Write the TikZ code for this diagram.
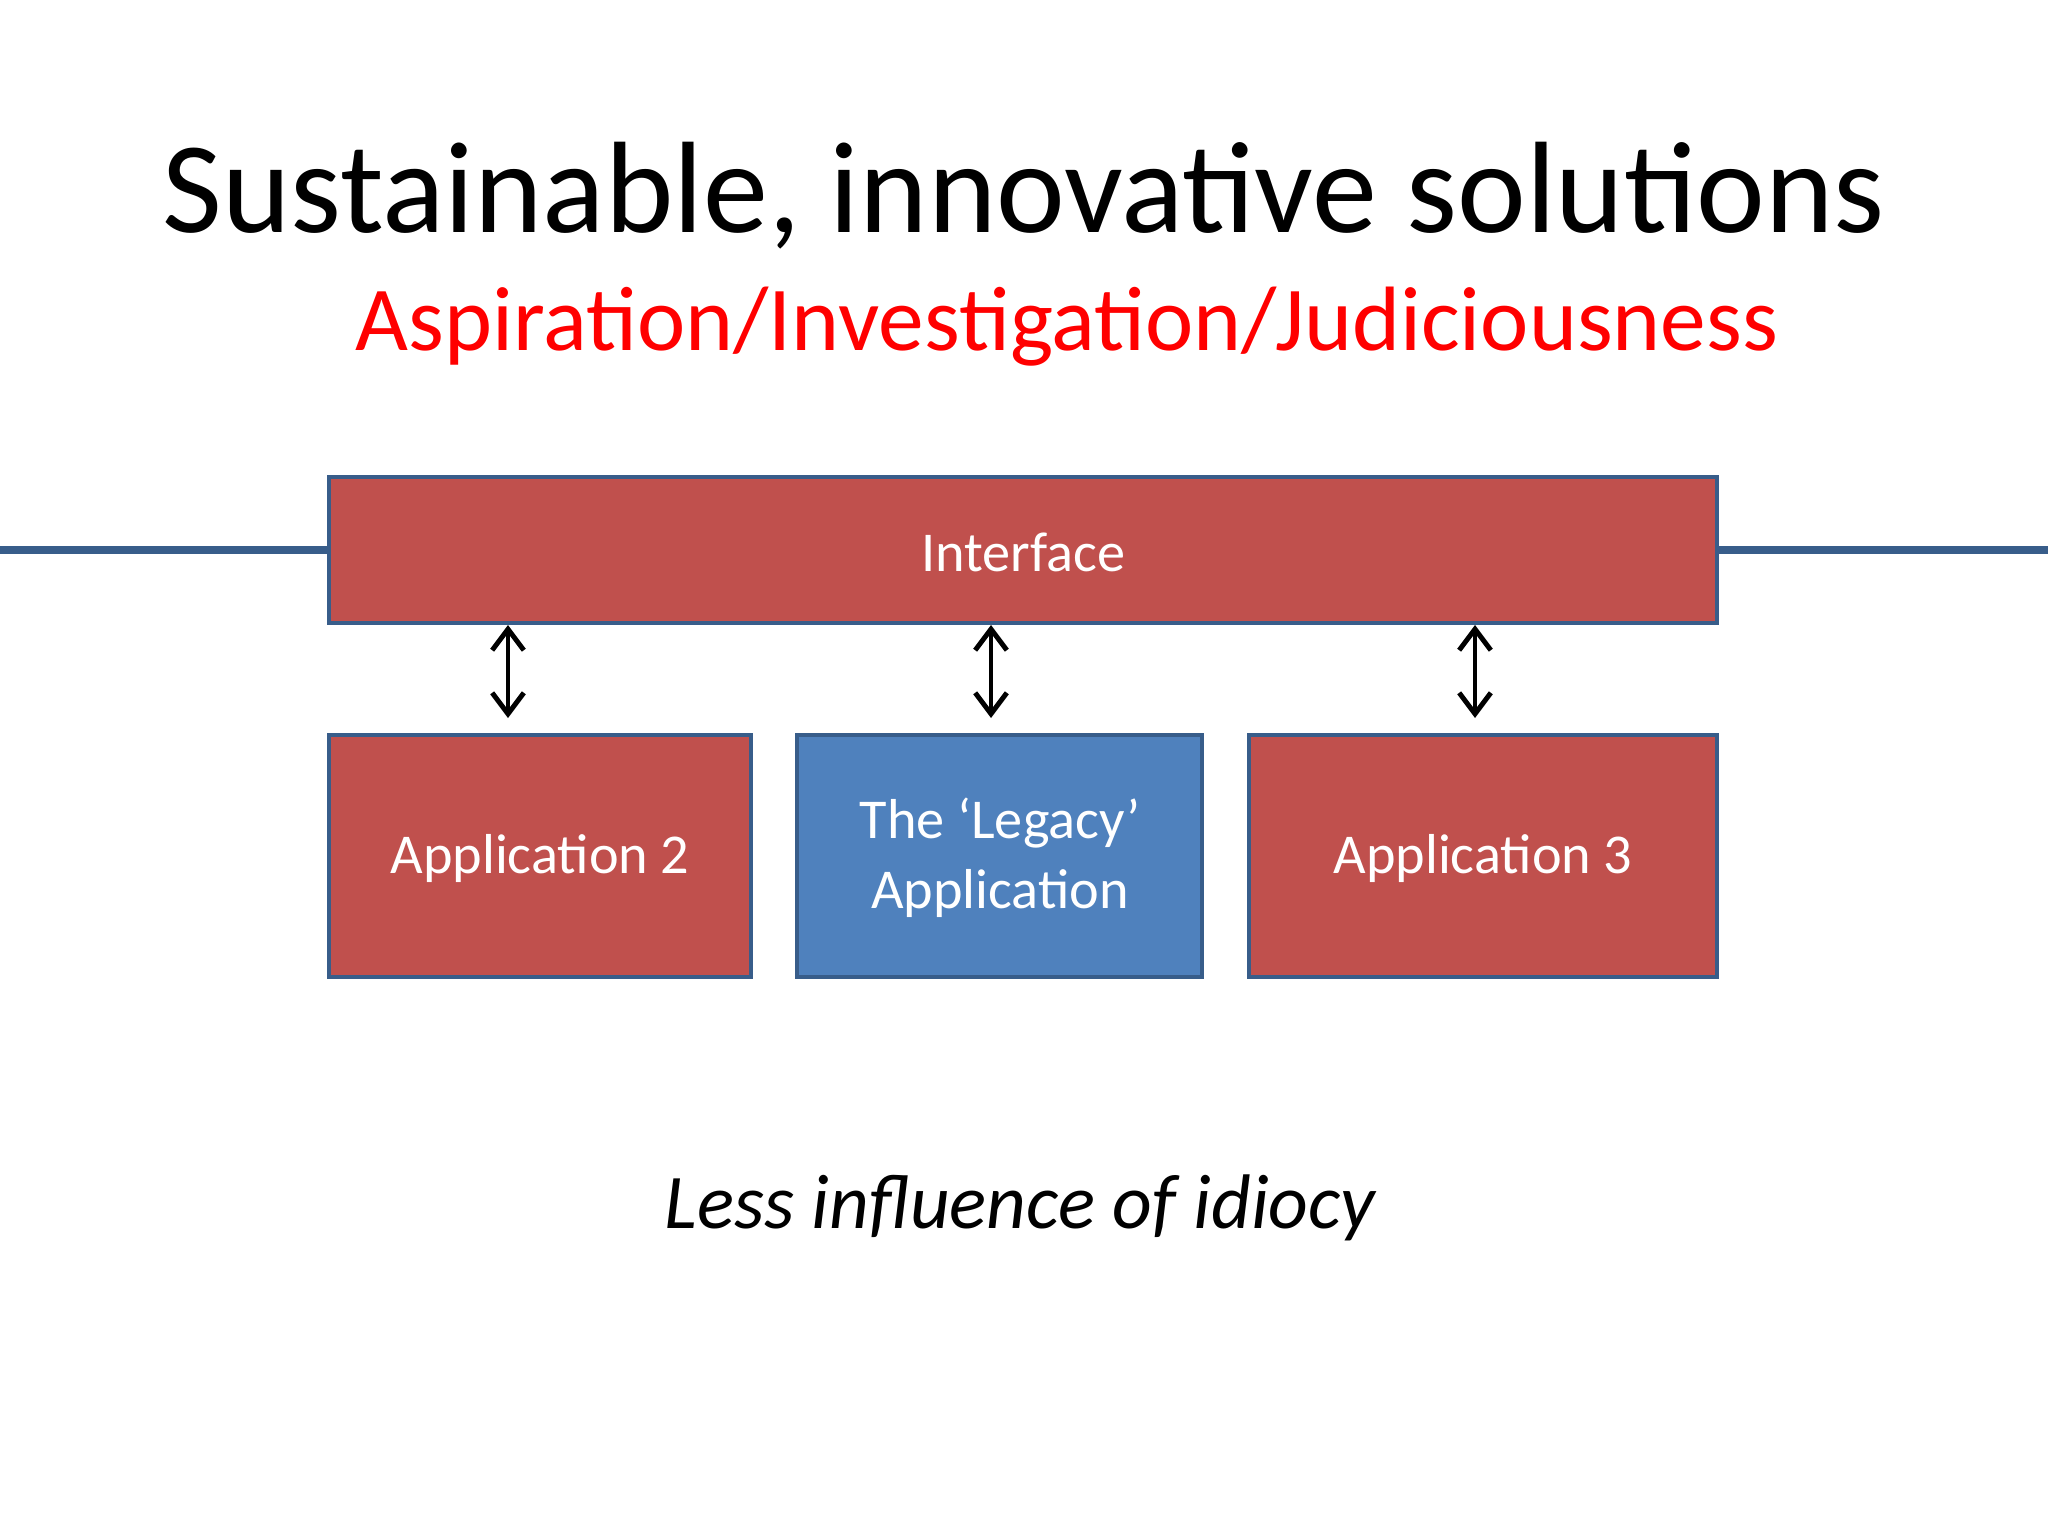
\documentclass[tikz,border=0pt]{standalone}
\usepackage{fontspec}
\setmainfont{Carlito}
\usetikzlibrary{arrows.meta}
\definecolor{boxred}{HTML}{C0504D}
\definecolor{boxblue}{HTML}{4F81BD}
\definecolor{boxedge}{HTML}{385D8A}
\begin{document}
\begin{tikzpicture}[x=0.01cm,y=-0.01cm,
  blk/.style={draw=boxedge,line width=1.3pt,text=white,font=\fontsize{16}{20}\selectfont,align=center,inner sep=0pt},
  dbl/.style={{Straight Barb[length=6pt,width=9pt]}-{Straight Barb[length=6pt,width=9pt]},line width=1.4pt}]
\useasboundingbox (0,0) rectangle (2048,1536);
\node (title) at (1024,196) {\fontsize{37}{44}\selectfont Sustainable, innovative solutions};
\node[text=red] (sub) at (1067,327) {\fontsize{26}{31}\selectfont Aspiration/Investigation/Judiciousness};
\node[blk,fill=boxred,minimum width=1388\pgflinewidth] (iface) at (1023,550) {};
\draw[blk,fill=boxred] (329,477) rectangle (1717,623);
\node[text=white,font=\fontsize{16}{20}\selectfont] (ifl) at (1023,552) {Interface};
\draw[blk,fill=boxred] (329,735) rectangle (751,977);
\node[text=white,font=\fontsize{16}{20}\selectfont] (a2) at (540,858) {Application 2};
\draw[blk,fill=boxblue] (797,735) rectangle (1202,977);
\node[text=white,font=\fontsize{16}{20}\selectfont,align=center] (leg) at (1000,858) {The ‘Legacy’\\Application};
\draw[blk,fill=boxred] (1249,735) rectangle (1717,977);
\node[text=white,font=\fontsize{16}{20}\selectfont] (a3) at (1483,858) {Application 3};
\coordinate (t1) at (508,625); \coordinate (b1) at (508,718);
\coordinate (t2) at (991,625); \coordinate (b2) at (991,718);
\coordinate (t3) at (1475,625); \coordinate (b3) at (1475,718);
\draw[dbl] (t1) -- (b1);
\draw[dbl] (t2) -- (b2);
\draw[dbl] (t3) -- (b3);
\node (less) at (1020,1208) {\fontsize{22}{26}\selectfont\itshape Less influence of idiocy};
\end{tikzpicture}
\end{document}
